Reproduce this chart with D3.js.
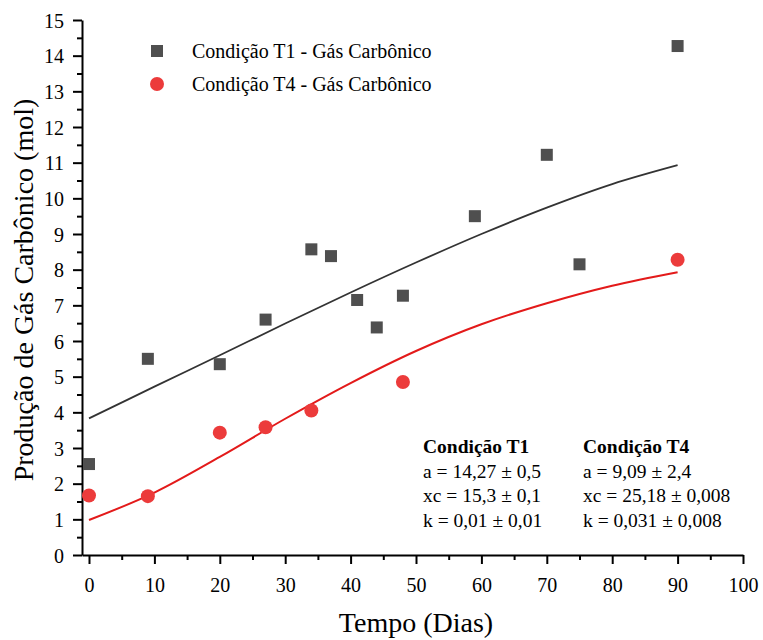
<!DOCTYPE html>
<html>
<head>
<meta charset="utf-8">
<script src="https://cdn.jsdelivr.net/npm/d3@7"></script>
<style>
  body { margin: 0; background: #fff; }
  svg text { font-family: "Liberation Serif", "DejaVu Serif", serif !important; }
</style>
</head>
<body>
<div id="chart"></div>
<script>
// measured points, T1 (squares)
const diasT1 = [0, 9, 20, 27, 34, 37, 41, 44, 48, 59, 70, 75, 90];
const co2T1 = [2.55, 5.5, 5.35, 6.6, 8.57, 8.38, 7.15, 6.38, 7.27, 9.5, 11.22, 8.15, 14.27];
// measured points, T4 (circles)
const diasT4 = [0, 9, 20, 27, 34, 48, 90];
const co2T4 = [1.67, 1.65, 3.43, 3.58, 4.05, 4.85, 8.28];
// fitted curves
const fitDias = [0, 10, 20, 30, 40, 50, 60, 70, 80, 90];
const fitT1 = [3.83, 4.72, 5.6, 6.49, 7.36, 8.2, 9.0, 9.74, 10.4, 10.93];
const fitT4 = [0.98, 1.75, 2.75, 3.82, 4.82, 5.72, 6.47, 7.06, 7.55, 7.93];

const legendLabels = ["Condição T1 - Gás Carbônico", "Condição T4 - Gás Carbônico"];
const paramsT1 = ["Condição T1", "a = 14,27 ± 0,5", "xc = 15,3 ± 0,1", "k = 0,01 ± 0,01"];
const paramsT4 = ["Condição T4", "a = 9,09 ± 2,4", "xc = 25,18 ± 0,008", "k = 0,031 ± 0,008"];

const W = 763, H = 640;
const margin = { top: 20, right: 20, bottom: 85, left: 82 };
const width = W - margin.left - margin.right;
const height = H - margin.top - margin.bottom;
const serif = "'Liberation Serif', 'Times New Roman', serif";

const grey = "#4f4f4f", red = "#ec3b3b";

const svg = d3.select("#chart").append("svg")
  .attr("width", W).attr("height", H)
  .attr("font-family", serif);
const g = svg.append("g")
  .attr("transform", "translate(" + margin.left + "," + margin.top + ")");

const x = d3.scaleLinear().domain([-1.07, 100]).range([0, width]);
const y = d3.scaleLinear().domain([0, 15]).range([height, 0]);

// minor ticks
g.append("g")
  .attr("transform", "translate(0," + height + ")")
  .call(d3.axisBottom(x).tickValues(d3.range(5, 100, 10)).tickSize(5).tickFormat(""))
  .call(a => a.select(".domain").remove())
  .call(a => a.selectAll("line").attr("stroke-width", 2));
g.append("g")
  .call(d3.axisLeft(y).tickValues(d3.range(0.5, 15, 1)).tickSize(5).tickFormat(""))
  .call(a => a.select(".domain").remove())
  .call(a => a.selectAll("line").attr("stroke-width", 2));

// major axes
const xAxis = g.append("g")
  .attr("transform", "translate(0," + height + ")")
  .call(d3.axisBottom(x).tickValues(d3.range(0, 101, 10)).tickSize(9).tickSizeOuter(0).tickPadding(13));
const yAxis = g.append("g")
  .call(d3.axisLeft(y).tickValues(d3.range(0, 16, 1)).tickSize(9).tickSizeOuter(0).tickPadding(9));

[xAxis, yAxis].forEach(a => {
  a.attr("font-family", serif).attr("font-size", 20);
  a.select(".domain").attr("stroke-width", 2);
  a.selectAll("line").attr("stroke-width", 2);
  a.selectAll("text").attr("fill", "#000");
});
yAxis.selectAll("text").attr("dy", "0.36em");
xAxis.selectAll("text").attr("dy", "0.75em");

// axis titles
svg.append("text")
  .attr("x", margin.left + x(50)).attr("y", 632)
  .attr("text-anchor", "middle").attr("font-size", 28)
  .text("Tempo (Dias)");
svg.append("text")
  .attr("transform", "translate(33,290) rotate(-90)")
  .attr("text-anchor", "middle").attr("font-size", 28)
  .text("Produção de Gás Carbônico (mol)");

// fit curves
const line = d3.line().curve(d3.curveCatmullRom)
  .x(d => x(d[0])).y(d => y(d[1]));
g.append("path")
  .datum(fitDias.map((d, i) => [d, fitT1[i]]))
  .attr("d", line).attr("fill", "none").attr("stroke", "#333").attr("stroke-width", 1.8);
g.append("path")
  .datum(fitDias.map((d, i) => [d, fitT4[i]]))
  .attr("d", line).attr("fill", "none").attr("stroke", "#e31a1a").attr("stroke-width", 2);

// markers
g.selectAll(".t1").data(diasT1.map((d, i) => [d, co2T1[i]]))
  .enter().append("rect").attr("class", "t1")
  .attr("x", d => x(d[0]) - 6).attr("y", d => y(d[1]) - 6)
  .attr("width", 12).attr("height", 12).attr("fill", grey);
g.selectAll(".t4").data(diasT4.map((d, i) => [d, co2T4[i]]))
  .enter().append("circle").attr("class", "t4")
  .attr("cx", d => x(d[0])).attr("cy", d => y(d[1]))
  .attr("r", 7).attr("fill", red);

// legend
const leg = svg.append("g").attr("transform", "translate(157,51)");
leg.append("rect").attr("x", -6).attr("y", -6).attr("width", 12).attr("height", 12).attr("fill", grey);
leg.append("circle").attr("cx", 0).attr("cy", 33).attr("r", 7).attr("fill", red);
legendLabels.forEach((t, i) => {
  leg.append("text").attr("x", 35).attr("y", i * 33 + 7)
    .attr("font-size", 20).text(t);
});

// fit parameters
function params(lines, px) {
  lines.forEach((t, i) => {
    svg.append("text").attr("x", px).attr("y", 453 + i * 24.5)
      .attr("font-size", 19.5).attr("font-weight", i === 0 ? "bold" : "normal")
      .text(t);
  });
}
params(paramsT1, 423);
params(paramsT4, 583);
</script>
</body>
</html>
